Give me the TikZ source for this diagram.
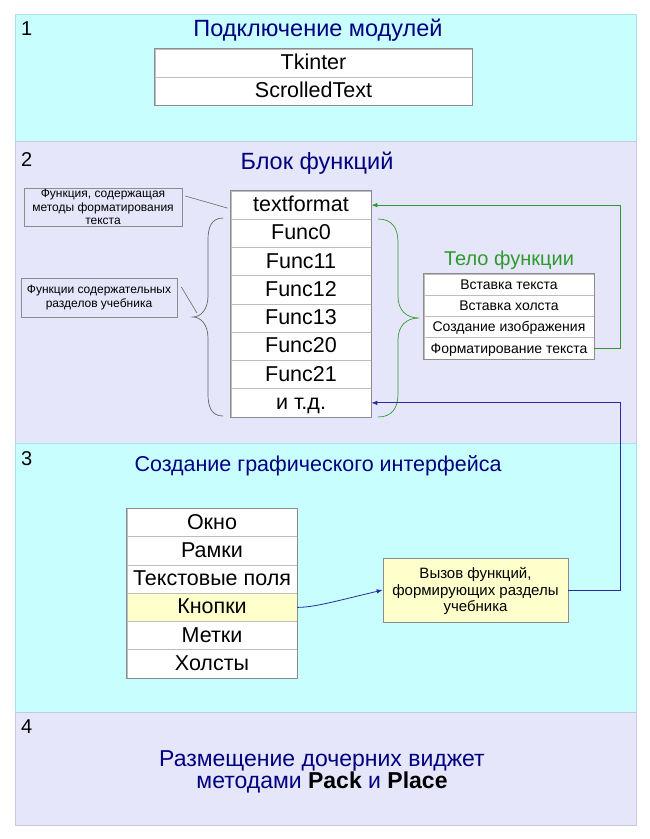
\documentclass[tikz,border=0pt]{standalone}
\usepackage{fontspec}
\setmainfont{Liberation Sans}
\usetikzlibrary{arrows.meta}
\definecolor{cyanbg}{HTML}{C8FEFE}
\definecolor{cyanbd}{HTML}{A6E2EC}
\definecolor{lavbg}{HTML}{E6E6FA}
\definecolor{lavbd}{HTML}{C8C8E6}
\definecolor{titleblue}{HTML}{000080}
\definecolor{cellgray}{HTML}{8C8C8C}
\definecolor{sepgray}{HTML}{BDBDBD}
\definecolor{yel}{HTML}{FFFFCC}
\definecolor{grn}{HTML}{2E9A2E}
\definecolor{blu}{HTML}{2B2BA0}
\tikzset{
  panelcyan/.style={fill=cyanbg, draw=cyanbd, line width=0.8pt},
  panellav/.style={fill=lavbg, draw=lavbd, line width=0.8pt},
  numlabel/.style={anchor=base west, inner sep=0pt, font=\fontsize{20}{22}\selectfont},
  ttl/.style={anchor=base, inner sep=0pt, text=titleblue, font=\fontsize{23.5}{24}\selectfont},
  bigcell/.style={draw=sepgray, fill=white, line width=0.7pt, inner sep=0pt,
    font=\fontsize{21.5}{24}\selectfont, text height=1.3em, text depth=0pt},
  smallcell/.style={draw=sepgray, fill=white, line width=0.7pt, inner sep=0pt,
    font=\fontsize{14}{16}\selectfont, text height=0.95em, text depth=0pt},
  tableframe/.style={draw=cellgray, line width=0.8pt},
  note/.style={draw=cellgray, fill=lavbg, line width=0.6pt, inner sep=0pt, align=center,
    font=\fontsize{12}{13.5}\selectfont},
  callbox/.style={draw=cellgray, fill=yel, line width=0.7pt, inner sep=0pt, align=center,
    font=\fontsize{15}{16.5}\selectfont},
  arr/.style={-{Latex[length=6pt,width=4.5pt]}, line width=0.8pt},
}
\begin{document}
\begin{tikzpicture}[x=1pt,y=-1pt]
\useasboundingbox (0,0) rectangle (650,839);
% panels
\draw[panelcyan] (15,14) rectangle (636,141);
\draw[panellav] (15,141) rectangle (636,443);
\draw[panelcyan] (15,443) rectangle (636,712);
\draw[panellav] (15,712) rectangle (636,825);
% numbers
\node[numlabel] (n1) at (21,35) {1};
\node[numlabel] (n2) at (21,166) {2};
\node[numlabel] (n3) at (21,465) {3};
\node[numlabel] (n4) at (21,733) {4};
% titles
\node[ttl] (t1) at (318,36) {Подключение модулей};
\node[ttl] (t2) at (317,169) {Блок функций};
\node[ttl, font=\fontsize{21.5}{24}\selectfont] (t3) at (318,471) {Создание графического интерфейса};
\node[ttl, anchor=north, align=center, font=\fontsize{23}{21}\selectfont] (t4) at (322,750)
  {Размещение дочерних виджет\\методами \textcolor{black}{\textbf{Pack}} и \textcolor{black}{\textbf{Place}}};
% modules table
\node[bigcell, minimum width=317pt, minimum height=28pt] (m1) at (313.5,63) {Tkinter};
\node[bigcell, minimum width=317pt, minimum height=28pt] (m2) at (313.5,91) {ScrolledText};
\draw[tableframe] (m1.north west) rectangle (m2.south east);
% functions table
\foreach \t [count=\i] in {textformat,Func0,Func11,Func12,Func13,Func20,Func21,и т.д.}{
  \node[bigcell, minimum width=140pt, minimum height=28.25pt] (f\i) at (301,{191+28.25*(\i-0.5)}) {\t};
}
\draw[tableframe] (f1.north west) rectangle (f8.south east);
% body table
\node[anchor=base, inner sep=0pt, text=grn, font=\fontsize{20}{22}\selectfont] (body) at (509,265) {Тело функции};
\foreach \t [count=\i] in {Вставка текста,Вставка холста,Создание изображения,Форматирование текста}{
  \node[smallcell, minimum width=170pt, minimum height=21.25pt] (b\i) at (509,{274+21.25*(\i-0.5)}) {\t};
}
\draw[tableframe] (b1.north west) rectangle (b4.south east);
% notes
\node[note, minimum width=158pt, minimum height=38pt] (a1) at (103,207) {Функция, содержащая\\методы форматирования\\текста};
\node[note, minimum width=156pt, minimum height=39pt] (a2) at (99,297.5) {Функции содержательных\\разделов учебника};
% left brace
\coordinate (lbtip) at (193,317);
\draw[gray!80!black, line width=0.7pt] (223,218) .. controls (211,218) and (208,228) .. (208,240) -- (208,296)
  .. controls (208,309) and (201,317) .. (lbtip) .. controls (201,317) and (208,325) .. (208,338) -- (208,394)
  .. controls (208,406) and (211,416) .. (223,416);
% right brace (green)
\draw[grn, line width=0.7pt] (378,219) .. controls (392,219) and (398,228) .. (398,242) -- (398,296)
  .. controls (398,310) and (406,318) .. (419,318) .. controls (406,318) and (398,326) .. (398,340) -- (398,394)
  .. controls (398,408) and (392,417) .. (378,417);
% note lines
\draw[gray!80!black, line width=0.6pt] ([shift={(3,-11)}]a1.east) -- ([shift={(-3,3)}]f1.west);
\draw[gray!80!black, line width=0.6pt] ([shift={(4,-10.5)}]a2.east) -- ([shift={(4,-4)}]lbtip);
% GUI table
\foreach \t [count=\i] in {Окно,Рамки,Текстовые поля,Кнопки,Метки,Холсты}{
  \node[bigcell, minimum width=170pt, minimum height=28.25pt] (g\i) at (212,{508.5+28.25*(\i-0.5)}) {\t};
}
\node[bigcell, fill=yel, minimum width=170pt, minimum height=28.25pt] at (g4) {Кнопки};
\draw[tableframe] (g1.north west) rectangle (g6.south east);
% call box
\node[callbox, minimum width=185pt, minimum height=64pt] (call) at (475.5,590) {\rule{0pt}{14pt}Вызов функций,\\формирующих разделы\\учебника};
% connectors
\draw[grn, arr] (b4.east) -- ++(26,0) |- (f1.east);
\draw[blu, arr] (call.east) -- ++(52,0) |- (f8.east);
\draw[blu, arr] (g4.east) .. controls +(16,0) and +(-50,12) .. (call.west);
\end{tikzpicture}
\end{document}
